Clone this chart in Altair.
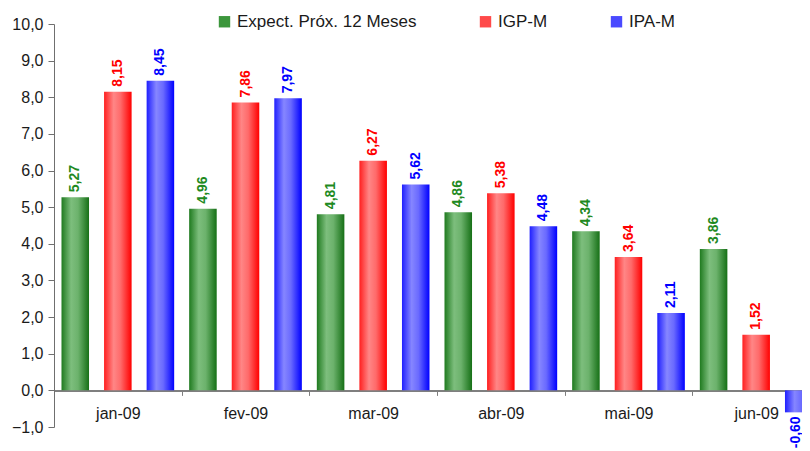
import altair as alt
import pandas as pd

months = ["jan-09", "fev-09", "mar-09", "abr-09", "mai-09", "jun-09"]
series = ["Expect. Próx. 12 Meses", "IGP-M", "IPA-M"]
expect_vals = [5.27, 4.96, 4.81, 4.86, 4.34, 3.86]
igpm_vals = [8.15, 7.86, 6.27, 5.38, 3.64, 1.52]
ipam_vals = [8.45, 7.97, 5.62, 4.48, 2.11, -0.60]
y_ticks = [-1, 0, 1, 2, 3, 4, 5, 6, 7, 8, 9, 10]

rows = []
for s, vals in zip(series, [expect_vals, igpm_vals, ipam_vals]):
    for m, v in zip(months, vals):
        rows.append({"month": m, "series": s, "value": v,
                     "label": f"{v:.2f}".replace(".", ",")})
df = pd.DataFrame(rows)

FONT = "Liberation Sans"
legend_colors = ["#3c963c", "#ff4a4a", "#4a4aff"]
text_colors = ["#1f8a1f", "#ff0000", "#0000ff"]
gradients = {
    series[0]: ["#1f7a1f", "#7dbe7d", "#6cb26c", "#167016"],
    series[1]: ["#ff1f1f", "#ff8686", "#ff6a6a", "#ff0000"],
    series[2]: ["#1f1fff", "#8686ff", "#6a6aff", "#0000ff"],
}

x_enc = alt.X("month:N", sort=months, title=None,
              scale=alt.Scale(domain=months, paddingInner=0, paddingOuter=0),
              axis=alt.Axis(offset=-36.6, tickBand="extent", domainColor="#7f7f7f", domainWidth=2,
                            tickColor="#7f7f7f", tickSize=5, labelPadding=10, labelFontSize=16,
                            labelFont=FONT, labelColor="#1a1a1a", labelAngle=0, grid=False))
xo_enc = alt.XOffset("series:N", sort=series,
                     scale=alt.Scale(domain=series, paddingInner=0.353, paddingOuter=0.176))
y_enc = alt.Y("value:Q", title=None,
              scale=alt.Scale(domain=[-1, 10], nice=False, zero=True),
              axis=alt.Axis(values=y_ticks, labelExpr="replace(format(datum.value, '.1f'), '.', ',')",
                            grid=False, domainColor="#6f6f6f", tickColor="#6f6f6f", tickSize=6,
                            labelPadding=5, labelFontSize=16, labelFont=FONT, labelColor="#1a1a1a"))

base = alt.Chart(df)

legend_layer = base.mark_bar(opacity=0).encode(
    x=x_enc, xOffset=xo_enc, y=y_enc,
    color=alt.Color("series:N", sort=series,
                    scale=alt.Scale(domain=series, range=legend_colors),
                    legend=alt.Legend(orient="none", legendX=162, legendY=-11, direction="horizontal",
                                      title=None, symbolType="square", symbolSize=130,
                                      symbolOpacity=1, symbolStrokeWidth=0,
                                      labelFontSize=17, labelFont=FONT, labelColor="#1a1a1a",
                                      labelLimit=400, columnPadding=60, labelOffset=4, padding=0)))

layers = [legend_layer]
for s in series:
    st = gradients[s]
    grad = alt.Gradient(gradient="linear", x1=0, x2=1, y1=0, y2=0,
                        stops=[alt.GradientStop(color=st[0], offset=0),
                               alt.GradientStop(color=st[1], offset=0.35),
                               alt.GradientStop(color=st[2], offset=0.6),
                               alt.GradientStop(color=st[3], offset=1)])
    layers.append(base.transform_filter(alt.datum.series == s)
                  .mark_bar(color=grad).encode(x=x_enc, xOffset=xo_enc, y=y_enc))

fill_enc = alt.Fill("series:N", sort=series, legend=None,
                    scale=alt.Scale(domain=series, range=text_colors))

pos_text = base.transform_filter(alt.datum.value >= 0).mark_text(
    angle=270, align="left", baseline="middle", dx=5, fontSize=14, fontWeight="bold", font=FONT
).encode(x=x_enc, xOffset=xo_enc, y=y_enc, text="label:N", fill=fill_enc)

neg_text = base.transform_filter(alt.datum.value < 0).mark_text(
    angle=270, align="right", baseline="middle", dx=-4, dy=-3, fontSize=14, fontWeight="bold", font=FONT
).encode(x=x_enc, xOffset=xo_enc, y=y_enc, text="label:N", fill=fill_enc)

layers += [pos_text, neg_text]

chart = alt.layer(*layers).properties(
    width=766, height=403,
    padding={"left": 46, "top": 16, "right": -18, "bottom": 24},
    autosize=alt.AutoSizeParams(type="none"),
    background="white",
).configure_view(stroke=None)

chart.save("out.html", embed_options={"renderer": "svg", "actions": False})
